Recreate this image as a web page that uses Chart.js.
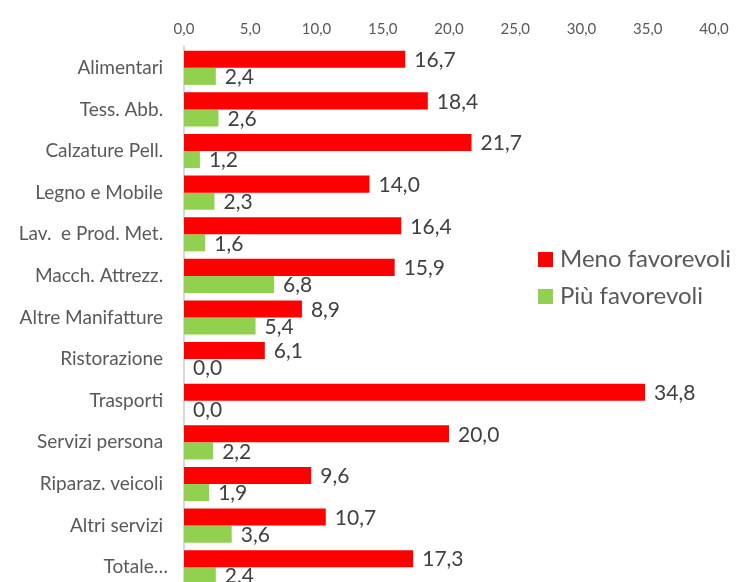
<!DOCTYPE html>
<html>
<head>
<meta charset="utf-8">
<script src="https://cdn.jsdelivr.net/npm/chart.js@4"></script>
<style>
  html, body { margin: 0; padding: 0; background: #fff; overflow: hidden; }
  #wrap { position: relative; width: 740px; height: 600px; }
  #legend { position: absolute; left: 538px; top: 242px; font-family: Lato, "Open Sans", sans-serif; font-size: 24px; color: #595959; }
  #legend div { height: 37px; line-height: 32px; white-space: nowrap; }
  #legend span { display: inline-block; width: 15px; height: 15px; margin-right: 7px; vertical-align: 0px; }
</style>
</head>
<body>
<div id="wrap">
  <canvas id="barChart" width="740" height="600"></canvas>
  <div id="legend"></div>
</div>
<script>
const categories = ['Alimentari ', 'Tess. Abb. ', 'Calzature Pell. ', 'Legno e Mobile ', 'Lav.  e Prod. Met. ',
    'Macch. Attrezz. ', 'Altre Manifatture ', 'Ristorazione ', 'Trasporti ', 'Servizi persona ',
    'Riparaz. veicoli ', 'Altri servizi ', 'Totale\u2026'];
const menoFavorevoli = [16.7, 18.4, 21.7, 14.0, 16.4, 15.9, 8.9, 6.1, 34.8, 20.0, 9.6, 10.7, 17.3];
const piuFavorevoli = [2.4, 2.6, 1.2, 2.3, 1.6, 6.8, 5.4, 0.0, 0.0, 2.2, 1.9, 3.6, 2.4];
const xTicks = [0, 5, 10, 15, 20, 25, 30, 35, 40];

const fmt = v => v.toFixed(1).replace('.', ',');

// draws the value after each bar end
const valueLabels = {
    id: 'valueLabels',
    afterDatasetsDraw(chart) {
        const ctx = chart.ctx;
        ctx.save();
        ctx.font = '21px Lato, "Open Sans", sans-serif';
        ctx.fillStyle = '#404040';
        ctx.textBaseline = 'middle';
        chart.data.datasets.forEach((ds, i) => {
            chart.getDatasetMeta(i).data.forEach((bar, j) => {
                ctx.fillText(fmt(ds.data[j]), bar.x + 9, bar.y + 1);
            });
        });
        ctx.restore();
    }
};

const ctx = document.getElementById('barChart').getContext('2d');
const chart = new Chart(ctx, {
    type: 'bar',
    data: {
        labels: categories,
        datasets: [{
            label: 'Meno favorevoli',
            data: menoFavorevoli,
            backgroundColor: '#FF0000'
        }, {
            label: 'Più favorevoli',
            data: piuFavorevoli,
            backgroundColor: '#92D050'
        }]
    },
    options: {
        indexAxis: 'y',
        responsive: false,
        animation: false,
        layout: { padding: { top: 22, right: 26, bottom: 12, left: 0 } },
        datasets: { bar: { categoryPercentage: 0.82, barPercentage: 1.0 } },
        plugins: {
            legend: { display: false },
            tooltip: { enabled: false }
        },
        scales: {
            x: {
                position: 'top',
                min: 0,
                max: 40,
                afterBuildTicks: s => { s.ticks = xTicks.map(v => ({ value: v })); },
                afterFit: s => { s.height -= 3; },
                ticks: {
                    callback: v => fmt(v),
                    color: '#595959',
                    font: { family: 'Lato, "Open Sans", sans-serif', size: 15 },
                    padding: 1
                },
                grid: { display: false },
                border: { display: false }
            },
            y: {
                afterFit: s => { s.width = 184; s.paddingTop = 0; s.paddingBottom = 0; },
                ticks: {
                    color: '#595959',
                    font: { family: 'Lato, "Open Sans", sans-serif', size: 19 },
                    padding: 8
                },
                grid: { display: false },
                border: { display: true, color: '#D9D9D9', width: 2 }
            }
        }
    },
    plugins: [valueLabels]
});

document.getElementById('legend').innerHTML = chart.data.datasets
    .map(ds => `<div><span style="background:${ds.backgroundColor}"></span>${ds.label}</div>`).join('');
</script>
</body>
</html>
